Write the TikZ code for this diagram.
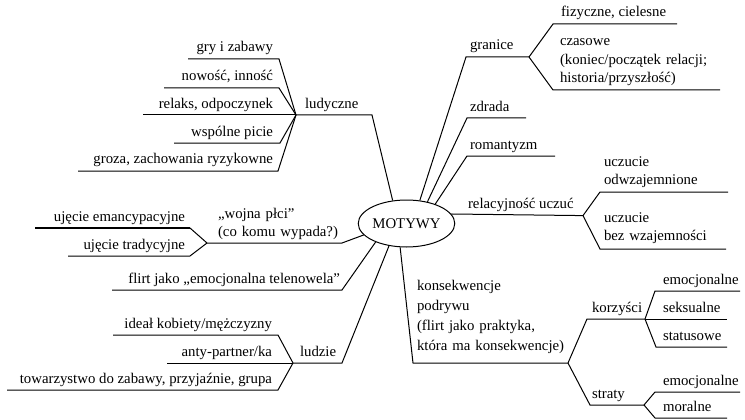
\documentclass[tikz,border=0pt]{standalone}
\usepackage{fontspec}
\setmainfont{Liberation Serif}
\usetikzlibrary{shapes.geometric}
\tikzset{
  lbl/.style={inner sep=0pt, outer sep=0pt, font=\fontsize{14.8}{18.5}\selectfont},
  lw/.style={lbl, anchor=base west},
  le/.style={lbl, anchor=base east},
  ml/.style={lbl, anchor=base west, text width=#1, align=left},
  branch/.style={line width=1pt, line join=miter},
  thick branch/.style={line width=1.8pt},
  core/.style={ellipse, draw, line width=1pt, minimum width=79pt, minimum height=47pt, inner sep=0pt, font=\fontsize{14.8}{18}\selectfont}
}
\begin{document}
\begin{tikzpicture}[x=1pt,y=-1pt]
\useasboundingbox (0,0) rectangle (745,420);
\node[core] (m) at (406.5,223.5) {MOTYWY};

% ---------- ludyczne ----------
\coordinate (clud) at (372,115);
\coordinate (jlud) at (296,115);
\coordinate (c1) at (279,59);  \coordinate (e1) at (188,59);
\coordinate (c2) at (279,88);  \coordinate (e2) at (164,88);
\coordinate (e3) at (143,115);
\coordinate (c4) at (280,143); \coordinate (e4) at (174,143);
\coordinate (c5) at (278,171); \coordinate (e5) at (78,171);
\draw[branch] (m.121) -- (clud) -- (jlud);
\draw[branch] (jlud) -- (c1) -- (e1);
\draw[branch] (jlud) -- (c2) -- (e2);
\draw[branch] (jlud) -- (e3);
\draw[branch] (jlud) -- (c4) -- (e4);
\draw[branch] (jlud) -- (c5) -- (e5);
\node[lw] (tlud) at (305,108) {ludyczne};
\node[le] (t1) at (273,52) {gry i zabawy};
\node[le] (t2) at (273,81) {nowość, inność};
\node[le] (t3) at (273,108) {relaks, odpoczynek};
\node[le] (t4) at (273,136) {wspólne picie};
\node[le] (t5) at (273,164) {groza, zachowania ryzykowne};

% ---------- granice ----------
\coordinate (cgra) at (466,57);
\coordinate (jgra) at (529,57);
\coordinate (cfiz) at (553,24);  \coordinate (efiz) at (677,24);
\coordinate (ccza) at (553,90);  \coordinate (ecza) at (720,90);
\draw[branch] (m.60) -- (cgra) -- (jgra);
\draw[branch] (jgra) -- (cfiz) -- (efiz);
\draw[branch] (jgra) -- (ccza) -- (ecza);
\node[lw] (tgra) at (470,50) {granice};
\node[lw] (tfiz) at (561,17) {fizyczne, cielesne};
\node[ml=180pt] (tcza) at (560,46) {czasowe\\(koniec/początek relacji;\\historia/przyszłość)};

% ---------- zdrada, romantyzm ----------
\coordinate (czdr) at (467,118); \coordinate (ezdr) at (526,118);
\coordinate (crom) at (467,156); \coordinate (erom) at (555,156);
\draw[branch] (m.46) -- (czdr) -- (ezdr);
\draw[branch] (m.34) -- (crom) -- (erom);
\node[lw] (tzdr) at (470,111) {zdrada};
\node[lw] (trom) at (470,149) {romantyzm};

% ---------- relacyjność uczuć ----------
\coordinate (jrel) at (583,215.6);
\coordinate (codw) at (600,192); \coordinate (eodw) at (728,192);
\coordinate (cbez) at (600,249); \coordinate (ebez) at (726,249);
\draw[branch] (m.12) -- (jrel);
\draw[branch] (jrel) -- (codw) -- (eodw);
\draw[branch] (jrel) -- (cbez) -- (ebez);
\node[lw] (trel) at (468,208.5) {relacyjność uczuć};
\node[ml=130pt] (todw) at (604,166) {uczucie\\odwzajemnione};
\node[ml=130pt] (tbez) at (604,222) {uczucie\\bez wzajemności};

% ---------- konsekwencje ----------
\coordinate (ckon) at (413,363);
\coordinate (jkon) at (568,363);
\coordinate (ckor) at (587,319); \coordinate (jkor) at (645,319);
\coordinate (ck1) at (655,291);  \coordinate (ek1) at (740,291);
\coordinate (ek2) at (727,319);
\coordinate (ck3) at (656,347);  \coordinate (ek3) at (727,347);
\coordinate (cstr) at (590,405); \coordinate (jstr) at (644,405);
\coordinate (cs1) at (655,392);  \coordinate (es1) at (740,392);
\coordinate (cs2) at (655,418);  \coordinate (es2) at (727,418);
\draw[branch] (m.255) -- (ckon) -- (jkon);
\draw[branch] (jkon) -- (ckor) -- (jkor);
\draw[branch] (jkor) -- (ck1) -- (ek1);
\draw[branch] (jkor) -- (ek2);
\draw[branch] (jkor) -- (ck3) -- (ek3);
\draw[branch] (jkon) -- (cstr) -- (jstr);
\draw[branch] (jstr) -- (cs1) -- (es1);
\draw[branch] (jstr) -- (cs2) -- (es2);
\node[ml=170pt, font=\fontsize{14.8}{20}\selectfont] (tkon) at (417,290) {konsekwencje\\podrywu\\(flirt jako praktyka,\\która ma konsekwencje)};
\node[lw] (tkor) at (592,312) {korzyści};
\node[lw] (tk1) at (663,284) {emocjonalne};
\node[lw] (tk2) at (663,312) {seksualne};
\node[lw] (tk3) at (663,340) {statusowe};
\node[lw] (tstr) at (592,398) {straty};
\node[lw] (ts1) at (663,385) {emocjonalne};
\node[lw] (ts2) at (663,411) {moralne};

% ---------- wojna płci ----------
\coordinate (cwoj) at (342,243);
\coordinate (jwoj) at (207,243);
\coordinate (cema) at (190,228); \coordinate (eema) at (35,228);
\coordinate (ctra) at (190,256); \coordinate (etra) at (68,256);
\draw[branch] (m.195) -- (cwoj) -- (jwoj);
\draw[branch] (jwoj) -- (cema);
\draw[branch, thick branch] (cema) -- (eema);
\draw[branch] (jwoj) -- (ctra) -- (etra);
\node[ml=140pt] (twoj) at (218,218) {„wojna płci”\\(co komu wypada?)};
\node[le] (tema) at (185,221) {ujęcie emancypacyjne};
\node[le] (ttra) at (185,249) {ujęcie tradycyjne};

% ---------- flirt ----------
\coordinate (cfli) at (342,290); \coordinate (efli) at (112,290);
\draw[branch] (m.211) -- (cfli) -- (efli);
\node[le] (tfli) at (340,283) {flirt jako „emocjonalna telenowela”};

% ---------- ludzie ----------
\coordinate (clu) at (342,363);
\coordinate (jlu) at (293,363);
\coordinate (cid) at (278,335); \coordinate (eid) at (113,335);
\coordinate (ean) at (167,363);
\coordinate (cto) at (278,390); \coordinate (eto) at (7,390);
\draw[branch] (m.232) -- (clu) -- (jlu);
\draw[branch] (jlu) -- (cid) -- (eid);
\draw[branch] (jlu) -- (ean);
\draw[branch] (jlu) -- (cto) -- (eto);
\node[lw] (tlu) at (300,356) {ludzie};
\node[le] (tid) at (272,328) {ideał kobiety/mężczyzny};
\node[le] (tan) at (272,356) {anty-partner/ka};
\node[le] (tto) at (272,383) {towarzystwo do zabawy, przyjaźnie, grupa};
\end{tikzpicture}
\end{document}
